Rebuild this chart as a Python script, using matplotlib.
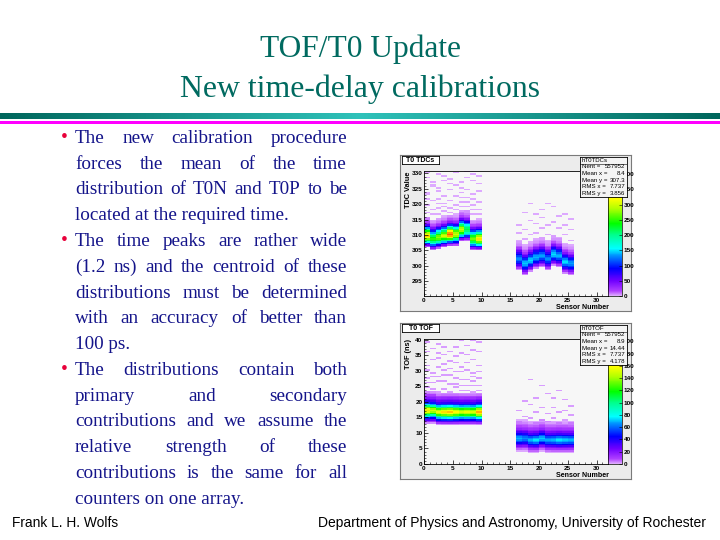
import numpy as np
import matplotlib
matplotlib.use('Agg')
import matplotlib.pyplot as plt
from matplotlib.colors import LinearSegmentedColormap, Normalize

W, H = 720, 540

# ---------------- slide text ----------------
title_lines = ['TOF/T0 Update', 'New time-delay calibrations']
bullet_lines = [
    'The new calibration procedure',
    'forces the mean of the time',
    'distribution of T0N and T0P to be',
    'located at the required time.',
    'The time peaks are rather wide',
    '(1.2 ns) and the centroid of these',
    'distributions must be determined',
    'with an accuracy of better than',
    '100 ps.',
    'The distributions contain both',
    'primary and secondary',
    'contributions and we assume the',
    'relative strength of these',
    'contributions is the same for all',
    'counters on one array.',
]
bullet_start = [0, 4, 9]
para_end = [3, 8, 14]
footer_left = 'Frank L. H. Wolfs'
footer_right = 'Department of Physics and Astronomy, University of Rochester'

# ---------------- histogram data ----------------
sensors = [0, 1, 2, 3, 4, 5, 6, 7, 8, 9,
           16, 17, 18, 19, 20, 21, 22, 23, 24, 25]

# T0 TDCs : peak position and peak height per sensor
tdc_center = [309.5, 308.8, 309.3, 309.8, 310.0, 310.0, 311.5, 311.8, 308.5, 308.5,
              302.0, 300.8, 301.5, 302.8, 303.0, 302.0, 303.8, 303.0, 301.2, 300.5]
tdc_peak = [340, 250, 280, 300, 380, 300, 300, 220, 270, 330,
            130, 145, 150, 140, 135, 130, 150, 140, 150, 135]
# relative height of the 0.5-wide bins, starting 3.5 below the peak
tdc_profile = [0.05, 0.15, 0.3, 0.48, 0.65, 0.8, 0.93, 1.0, 0.95, 0.85,
               0.7, 0.55, 0.4, 0.27, 0.17, 0.1, 0.06, 0.04, 0.025, 0.015]
tdc_stray_x = [0, 1, 3, 4, 4, 7, 7, 8, 6, 7, 8, 6, 1, 0, 2, 3, 5, 7, 8, 9,
               1, 2, 3, 4, 6, 0, 9, 5, 7, 0, 2,
               0, 2, 5, 9, 3, 6, 8, 1, 5, 9, 2, 4, 6, 9, 0, 3, 5, 7, 1, 4, 6, 8,
               9, 0, 2, 3, 5, 7, 8, 1, 4, 6, 8, 0, 2, 3, 9,
               18, 20, 21, 22, 17, 19, 23, 24, 20, 25, 18, 22, 16, 19, 21, 24,
               17, 20, 23, 25, 16, 18, 19, 21, 22, 24, 17, 20, 23, 25]
tdc_stray_y = [328.5, 327.0, 329.0, 328.0, 326.5, 330.5, 328.5, 329.5, 325.0, 324.5,
               323.0, 322.0, 325.5, 321.5, 321.5, 320.0, 319.5, 320.5, 319.5, 318.0,
               318.0, 318.5, 317.5, 318.5, 319.0, 317.0, 316.5, 316.5, 317.5, 323.5, 324.0,
               330.0, 329.5, 330.0, 329.0, 327.5, 327.0, 327.5, 326.0, 326.0, 326.5,
               325.0, 324.5, 323.5, 324.0, 323.0, 322.5, 322.5, 322.0, 321.0, 321.0,
               320.5, 321.5, 320.5, 319.5, 320.0, 319.0, 318.0, 319.0, 318.0, 316.5,
               317.0, 317.0, 316.5, 315.5, 316.5, 316.0, 315.0,
               320.0, 318.0, 320.0, 319.0, 317.0, 316.5, 316.0, 316.5, 315.5, 315.0,
               314.5, 314.0, 313.0, 313.5, 313.0, 313.0, 311.5, 312.0, 312.0, 311.5,
               310.5, 310.0, 310.5, 310.0, 309.5, 310.0, 308.5, 309.0, 308.5, 308.0]

# T0 TOF
tof_center = [17.0, 17.2, 16.8, 16.8, 16.7, 16.5, 16.8, 16.6, 16.8, 16.7,
              8.3, 8.0, 7.8, 7.9, 8.0, 7.7, 7.8, 7.6, 7.5, 7.5]
tof_peak = [165, 150, 155, 165, 170, 160, 150, 155, 150, 175,
            70, 65, 70, 75, 72, 68, 70, 75, 72, 70]
# relative height of the 0.5 ns bins, starting 4 ns below the peak
tof_profile = [0.02, 0.08, 0.18, 0.3, 0.45, 0.62, 0.8, 0.93, 1.0, 0.93, 0.8,
               0.62, 0.45, 0.32, 0.22, 0.16, 0.12, 0.09, 0.06, 0.03, 0.02]
tof_stray_x = [1, 4, 3, 6, 5, 7, 8, 9, 2, 4, 6, 7, 9, 0, 1, 3, 5, 8, 0, 2, 4, 6, 8,
               9, 1, 3, 5, 7, 9,
               0, 2, 3, 6, 8, 0, 2, 5, 7, 9, 1, 3, 5, 8, 0, 2, 4, 6, 7, 9, 1, 3,
               5, 7, 8, 0, 2, 4, 6, 8, 0, 1, 3, 5, 7, 9, 2, 4, 6, 8,
               18, 20, 21, 22, 23, 19, 17, 24, 25, 18, 20, 22, 16, 19, 21, 23, 24,
               25, 17, 18, 20, 22, 16, 19, 21, 23, 24, 25]
tof_stray_y = [37.0, 36.0, 35.0, 35.5, 37.5, 38.0, 39.5, 39.0, 34.0, 33.0, 31.0,
               32.5, 31.5, 30.0, 29.0, 30.0, 29.5, 29.0, 27.5, 28.0, 28.5, 27.0,
               26.5, 27.5, 26.0, 26.5, 25.5, 25.0, 25.0,
               39.0, 38.5, 37.5, 39.5, 36.5, 36.0, 35.5, 34.5, 35.0, 36.0, 33.5,
               32.0, 32.5, 33.5, 31.5, 31.0, 30.5, 29.5, 30.0, 29.5, 28.0, 28.5,
               27.5, 27.0, 28.0, 26.0, 26.5, 25.5, 25.0, 25.0, 24.5, 24.0, 24.0,
               24.5, 23.5, 23.5, 23.0, 23.0, 23.5, 23.0,
               27.0, 25.0, 22.5, 21.0, 23.5, 21.0, 20.0, 20.5, 18.5, 19.0, 18.0,
               18.0, 17.0, 16.5, 16.0, 16.5, 17.0, 15.5, 15.0, 14.5, 14.0, 14.5,
               13.5, 13.0, 13.5, 13.0, 14.0, 13.0]
stray_count = 2

tdc_stats = [('Nent =', '557952'), ('Mean x =', '8.4'), ('Mean y =', '307.3'),
             ('RMS x =', '7.737'), ('RMS y =', '3.856')]
tof_stats = [('Nent =', '557952'), ('Mean x =', '8.9'), ('Mean y =', '14.44'),
             ('RMS x =', '7.737'), ('RMS y =', '4.178')]

# ---------------- helpers ----------------
fig = plt.figure(figsize=(7.2, 5.4), dpi=100)
fig.patch.set_facecolor('white')
renderer = fig.canvas.get_renderer()


def fx(px):
    return px / W


def fy(py):
    return 1 - py / H


def rect(x0, y0, x1, y1):
    return [x0 / W, 1 - y1 / H, (x1 - x0) / W, (y1 - y0) / H]


def fit_text(x, y, s, width, size, **kw):
    t = fig.text(fx(x), fy(y), s, fontsize=size, **kw)
    w = t.get_window_extent(renderer).width
    t.set_fontsize(size * width / w)
    return t


# ---------------- title + divider ----------------
teal = '#006a60'
fit_text(360, 57, title_lines[0], 201, 23, family='Liberation Serif',
         color=teal, ha='center', va='baseline')
fit_text(360, 97, title_lines[1], 360, 23, family='Liberation Serif',
         color=teal, ha='center', va='baseline')

bar = fig.add_axes(rect(0, 113, 720, 119))
grad_cmap = LinearSegmentedColormap.from_list('bar', ['#00665c', '#2fc2ba', '#00665c'])
bar.imshow(np.linspace(0, 1, 256)[None, :], aspect='auto', cmap=grad_cmap)
bar.axis('off')
mag = fig.add_axes(rect(0, 121, 720, 124))
mag.set_facecolor('#ff00ff')
mag.set_xticks([])
mag.set_yticks([])
for s in mag.spines.values():
    s.set_visible(False)

# ---------------- bullet text (justified) ----------------
text_color = '#14148a'
fs = 13.8
x_left, x_right = 75, 347
for i, line in enumerate(bullet_lines):
    base = 142.7 + i * 25.8
    if i in bullet_start:
        fig.text(fx(64), fy(base - 1), '\u2022', fontsize=14, family='Liberation Serif',
                 color='#e8003a', ha='center', va='baseline')
    if i in para_end:
        fig.text(fx(x_left), fy(base), line, fontsize=fs, family='Liberation Serif',
                 color=text_color, va='baseline')
        continue
    words = line.split()
    ts = [fig.text(0, fy(base), w, fontsize=fs, family='Liberation Serif',
                   color=text_color, va='baseline') for w in words]
    widths = [t.get_window_extent(renderer).width for t in ts]
    gap = (x_right - x_left - sum(widths)) / (len(words) - 1)
    x = x_left
    for t, w in zip(ts, widths):
        t.set_x(fx(x))
        x += w + gap

# ---------------- footer ----------------
fit_text(12, 527, footer_left, 106, 9, family='Liberation Sans', color='black',
         va='baseline')
fit_text(706, 527, footer_right, 388, 9, family='Liberation Sans', color='black',
         ha='right', va='baseline')

# ---------------- histogram panels ----------------
root_cmap = LinearSegmentedColormap.from_list('root', [
    (0.0, '#e2b4ff'), (0.04, '#b040ff'), (0.12, '#7000ff'), (0.22, '#0000ff'),
    (0.32, '#0090ff'), (0.38, '#00ffff'), (0.5, '#00ff80'), (0.58, '#00ff00'),
    (0.7, '#b0ff00'), (0.78, '#ffff00'), (0.88, '#ff9900'), (1.0, '#ff0000')])

bold = dict(family='Liberation Sans', fontweight='bold')


def build_hist(centers, peaks, profile, off0, sx, sy, ylo, yhi, dy):
    yedges = np.arange(ylo, yhi + dy / 2, dy)
    xedges = np.arange(0, 33)
    h = np.zeros((len(yedges) - 1, len(xedges) - 1))
    for s, c, p in zip(sensors, centers, peaks):
        for k, frac in enumerate(profile):
            j = np.searchsorted(yedges, c + off0 + k * dy, side='right') - 1
            if 0 <= j < h.shape[0]:
                h[j, s] += p * frac
    for x, y in zip(sx, sy):
        j = np.searchsorted(yedges, y, side='right') - 1
        if 0 <= j < h.shape[0]:
            h[j, x] += stray_count
    return xedges, yedges, np.ma.masked_less(h, 0.5)


def draw_panel(top, name, hname, ylabel, hist, ylim, yticks, zmax, zticks, stats):
    px = fig.add_axes(rect(400, top, 631, top + 156))
    px.set_facecolor('#ececec')
    px.set_xticks([])
    px.set_yticks([])
    for s in px.spines.values():
        s.set_color('#7a7a7a')
        s.set_linewidth(0.8)

    ax = fig.add_axes(rect(424, top + 16, 608, top + 141))
    ax.set_facecolor('#f7f7f7')
    xe, ye, h = hist
    mesh = ax.pcolormesh(xe, ye, h, cmap=root_cmap, norm=Normalize(0, zmax))
    ax.set_xlim(0, 32)
    ax.set_ylim(*ylim)
    ax.set_xticks(np.arange(0, 31, 5))
    ax.set_xticks(np.arange(0, 32, 1), minor=True)
    ax.set_yticks(yticks)
    ax.set_yticks(np.arange(np.ceil(ylim[0]), ylim[1], 1), minor=True)
    ax.tick_params(direction='in', length=3, width=0.5, labelsize=4.6, pad=1.2)
    ax.tick_params(which='minor', direction='in', length=1.5, width=0.4)
    for lab in ax.get_xticklabels() + ax.get_yticklabels():
        lab.set_fontweight('bold')
        lab.set_family('Liberation Sans')
    for s in ax.spines.values():
        s.set_linewidth(0.6)
    fig.text(fx(408), fy(top + 16), ylabel, rotation=90, fontsize=5.3,
             ha='center', va='top', **bold)
    fig.text(fx(609), fy(top + 152.8), 'Sensor Number', fontsize=5.1,
             ha='right', va='center', **bold)

    cax = fig.add_axes(rect(608, top + 16, 622, top + 141))
    cb = fig.colorbar(mesh, cax=cax)
    cb.set_ticks(zticks)
    cax.tick_params(direction='in', length=2, width=0.4, labelsize=4.6, pad=1)
    for lab in cax.get_yticklabels():
        lab.set_fontweight('bold')
        lab.set_family('Liberation Sans')
    cb.outline.set_linewidth(0.5)

    tb = fig.add_axes(rect(402, top + 1, 439, top + 9))
    tb.set_facecolor('white')
    tb.set_xticks([])
    tb.set_yticks([])
    for s in tb.spines.values():
        s.set_linewidth(0.6)
    tb.text(0.5, 0.45, name, fontsize=5, ha='center', va='center', **bold)

    sb = fig.add_axes(rect(580, top + 2, 627, top + 42))
    sb.set_zorder(10)
    sb.set_facecolor('#f4f4f4')
    sb.set_xticks([])
    sb.set_yticks([])
    sb.set_xlim(0, 1)
    sb.set_ylim(0, 6)
    for s in sb.spines.values():
        s.set_linewidth(0.6)
    sb.text(0.04, 5.5, hname, fontsize=4.4, va='center', family='Liberation Sans')
    sb.axhline(5.0, color='black', linewidth=0.4)
    for k, (lab, val) in enumerate(stats):
        yk = 4.5 - k
        sb.text(0.04, yk, lab, fontsize=4.4, va='center', family='Liberation Sans')
        sb.text(0.97, yk, val, fontsize=4.4, va='center', ha='right',
                family='Liberation Sans')


tdc_hist = build_hist(tdc_center, tdc_peak, tdc_profile, -3.5,
                      tdc_stray_x, tdc_stray_y, 290.0, 331.0, 0.5)
tof_hist = build_hist(tof_center, tof_peak, tof_profile, -4.0,
                      tof_stray_x, tof_stray_y, 0.0, 40.5, 0.5)

draw_panel(155, 'T0 TDCs', 'hT0TDCs', 'TDC Value', tdc_hist, (290.2, 330.8),
           np.arange(295, 331, 5), 410, np.arange(0, 401, 50), tdc_stats)
draw_panel(323, 'T0 TOF', 'hT0TOF', 'TOF (ns)', tof_hist, (0, 40.3),
           np.arange(0, 41, 5), 204, np.arange(0, 201, 20), tof_stats)

fig.savefig('out.png', dpi=100)
